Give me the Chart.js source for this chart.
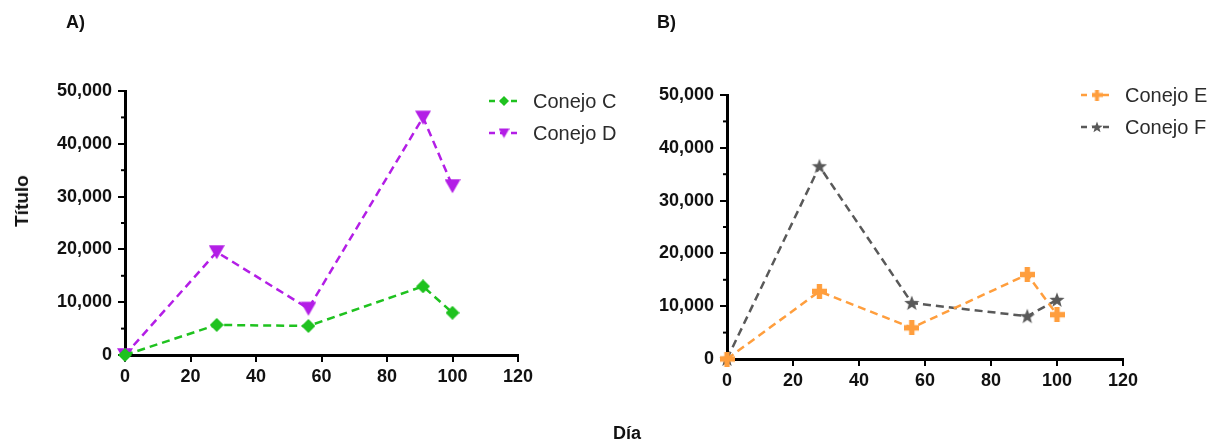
<!DOCTYPE html>
<html>
<head>
<meta charset="utf-8">
<script src="https://cdn.jsdelivr.net/npm/chart.js@4/dist/chart.umd.min.js"></script>
<style>
  html, body { margin: 0; padding: 0; background: #fff; }
  #wrap { position: relative; width: 1221px; height: 445px; overflow: hidden; font-family: "Liberation Sans", Arial, sans-serif; }
  canvas { position: absolute; top: 0; }
  .lbl { position: absolute; font-weight: bold; font-size: 18px; line-height: 18px; color: #111; white-space: nowrap; }
</style>
</head>
<body>
<div id="wrap">
  <canvas id="chartA" width="640" height="445" style="left:0"></canvas>
  <canvas id="chartB" width="581" height="445" style="left:640px"></canvas>
  <div class="lbl" style="left:66px; top:13px">A)</div>
  <div class="lbl" style="left:657px; top:13px">B)</div>
  <div class="lbl" style="left:613px; top:424px">Día</div>
  <div class="lbl" style="left:22px; top:201px; font-size:19px; transform: translate(-50%, -50%) rotate(-90deg)">Título</div>
</div>
<script>
  'use strict'

  // ---------------------------------------------------------------------------
  // DATA
  // ---------------------------------------------------------------------------

  const DAYS = [0, 28, 56, 91, 100]
  const X_TICKS = [0, 20, 40, 60, 80, 100, 120]

  const CONEJO_C = [0, 5700, 5500, 13000, 8000]
  const CONEJO_D = [0, 19500, 8800, 45000, 32000]
  const CONEJO_E = [0, 12800, 5900, 16000, 8400]
  const CONEJO_F = [0, 36500, 10600, 8100, 11200]

  const LABELS_A = ['Conejo C', 'Conejo D']
  const LABELS_B = ['Conejo E', 'Conejo F']

  // ---------------------------------------------------------------------------
  // STYLE
  // ---------------------------------------------------------------------------

  const GREEN = '#1fc21f'
  const PURPLE = '#b31ee6'
  const ORANGE = '#ff9e3d'
  const GRAY = '#595959'
  const DASH = [8, 5]
  const TICK_FONT = { family: '"Liberation Sans", Arial, sans-serif', size: 18, weight: 'bold' }

  // marker sprites used as pointStyle
  function makeMarker(shape, color, size) {
    const c = document.createElement('canvas')
    c.width = size
    c.height = size
    const ctx = c.getContext('2d')
    const m = size / 2
    ctx.fillStyle = color
    ctx.beginPath()
    if (shape === 'diamond') {
      ctx.moveTo(m, 0); ctx.lineTo(size, m); ctx.lineTo(m, size); ctx.lineTo(0, m)
    } else if (shape === 'triangleDown') {
      ctx.moveTo(0, size * 0.08); ctx.lineTo(size, size * 0.08); ctx.lineTo(m, size * 0.95)
    } else if (shape === 'plus') {
      const t = size * 0.18
      ctx.rect(m - t, 0, t * 2, size)
      ctx.rect(0, m - t, size, t * 2)
    } else if (shape === 'star') {
      const R = m, r = m * 0.42
      for (let i = 0; i < 10; i++) {
        const a = -Math.PI / 2 + i * Math.PI / 5
        const rad = i % 2 ? r : R
        const px = m + rad * Math.cos(a), py = m + 0.5 + rad * Math.sin(a)
        if (i === 0) ctx.moveTo(px, py); else ctx.lineTo(px, py)
      }
    }
    ctx.closePath()
    ctx.fill()
    return c
  }

  const MARK = {
    c: makeMarker('diamond', GREEN, 14), cs: makeMarker('diamond', GREEN, 10),
    d: makeMarker('triangleDown', PURPLE, 16), ds: makeMarker('triangleDown', PURPLE, 11),
    e: makeMarker('plus', ORANGE, 15), es: makeMarker('plus', ORANGE, 11),
    f: makeMarker('star', GRAY, 16), fs: makeMarker('star', GRAY, 12),
  }

  function series(label, values, color, marker, legendMarker) {
    return {
      label,
      data: DAYS.map((d, i) => ({ x: d, y: values[i] })),
      borderColor: color,
      backgroundColor: color,
      borderWidth: 2.5,
      borderDash: DASH,
      pointStyle: marker,
      legendMarker,
      pointRadius: 7,
      tension: 0,
      fill: false,
      clip: false,
    }
  }

  // legend drawn to the right of the plot, like the original figure
  function sideLegend(cfg) {
    return {
      id: 'sideLegend',
      afterDraw(chart) {
        const ctx = chart.ctx
        ctx.save()
        chart.data.datasets.forEach((ds, i) => {
          const y = cfg.y + i * cfg.gap
          ctx.strokeStyle = ds.borderColor
          ctx.lineWidth = 2.5
          ctx.setLineDash([6, 5])
          ctx.beginPath()
          ctx.moveTo(cfg.x, y)
          ctx.lineTo(cfg.x + cfg.len, y)
          ctx.stroke()
          const mk = ds.legendMarker
          ctx.drawImage(mk, cfg.x + cfg.len / 2 - mk.width / 2, y - mk.height / 2)
          ctx.fillStyle = '#2b2b2b'
          ctx.font = '20px "Liberation Sans", Arial, sans-serif'
          ctx.textBaseline = 'middle'
          ctx.setLineDash([])
          ctx.fillText(ds.label, cfg.textX, y + 1)
        })
        ctx.restore()
      },
    }
  }

  // short minor ticks on the y axis every 5,000
  const minorTicks = {
    id: 'minorTicks',
    afterDraw(chart) {
      const ys = chart.scales.y
      const ctx = chart.ctx
      ctx.save()
      ctx.strokeStyle = '#000'
      ctx.lineWidth = 2
      for (let v = 5000; v < ys.max; v += 10000) {
        const py = ys.getPixelForValue(v)
        ctx.beginPath()
        ctx.moveTo(ys.right - 4, py)
        ctx.lineTo(ys.right, py)
        ctx.stroke()
      }
      ctx.restore()
    },
  }

  function options(yWidth, padTop, padRight, padBottom) {
    return {
      responsive: false,
      animation: false,
      events: [],
      layout: { padding: { left: 0, top: padTop, right: padRight, bottom: padBottom } },
      plugins: { legend: { display: false }, tooltip: { enabled: false } },
      scales: {
        x: {
          type: 'linear',
          min: 0,
          max: 120,
          afterBuildTicks: scale => { scale.ticks = X_TICKS.map(v => ({ value: v })) },
          afterFit: scale => { scale.height = 50 },
          border: { display: true, color: '#000', width: 3 },
          grid: { drawOnChartArea: false, color: '#000', lineWidth: 2, tickLength: 7 },
          ticks: { color: '#111', font: TICK_FONT, padding: 4, maxRotation: 0 },
        },
        y: {
          min: 0,
          max: 50000,
          afterFit: scale => { scale.width = yWidth },
          border: { display: true, color: '#000', width: 3 },
          grid: { drawOnChartArea: false, color: '#000', lineWidth: 2, tickLength: 7 },
          ticks: {
            stepSize: 10000,
            color: '#111',
            font: TICK_FONT,
            padding: 6,
            callback: v => v.toLocaleString('en-US'),
          },
        },
      },
    }
  }

  new Chart(document.getElementById('chartA'), {
    type: 'line',
    data: {
      datasets: [
        series(LABELS_A[0], CONEJO_C, GREEN, MARK.c, MARK.cs),
        series(LABELS_A[1], CONEJO_D, PURPLE, MARK.d, MARK.ds),
      ],
    },
    options: options(125, 91, 122, 40),
    plugins: [minorTicks, sideLegend({ x: 489, y: 101, gap: 32, len: 30, textX: 533 })],
  })

  new Chart(document.getElementById('chartB'), {
    type: 'line',
    data: {
      datasets: [
        series(LABELS_B[0], CONEJO_E, ORANGE, MARK.e, MARK.es),
        series(LABELS_B[1], CONEJO_F, GRAY, MARK.f, MARK.fs),
      ],
    },
    options: options(87, 95, 98, 36),
    plugins: [minorTicks, sideLegend({ x: 1081 - 640, y: 95, gap: 32, len: 32, textX: 1125 - 640 })],
  })
</script>
</body>
</html>
